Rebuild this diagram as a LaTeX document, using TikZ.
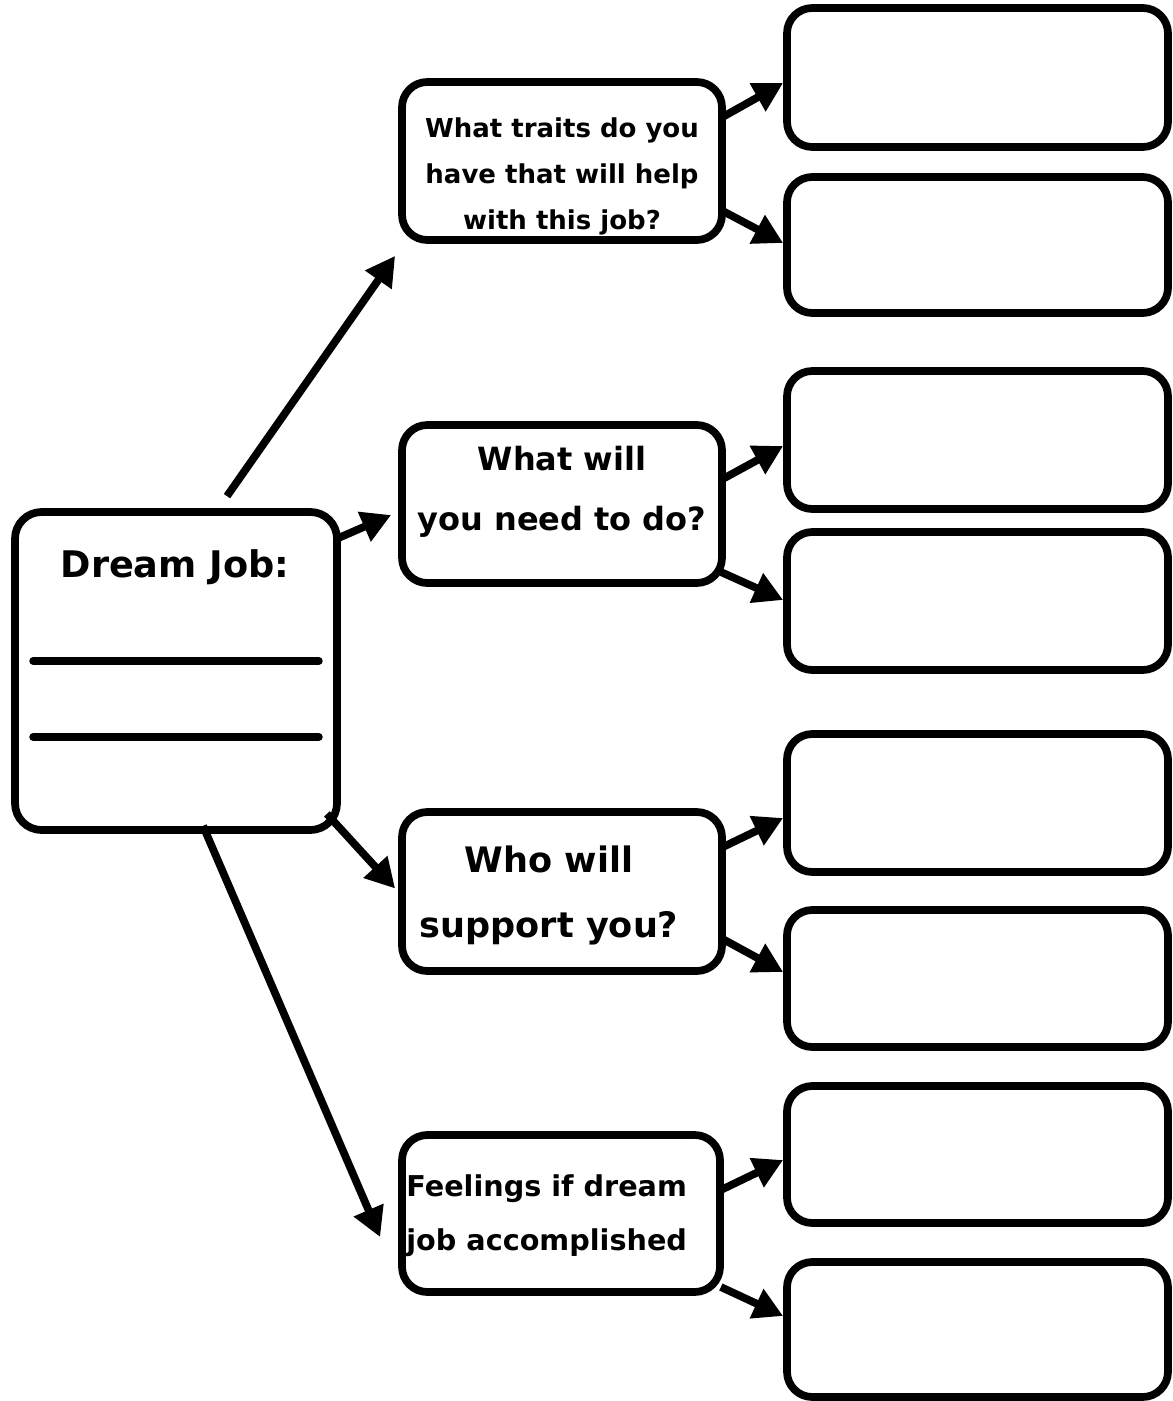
\documentclass[tikz,border=0pt]{standalone}
\usepackage{fontspec}
\setmainfont{DejaVu Sans}
\usetikzlibrary{arrows.meta,calc}
\tikzset{
  box/.style 2 args={draw, line width=5.8pt, rounded corners=19pt, inner sep=0pt,
    minimum width=#1, minimum height=#2},
  txt/.style={align=center, inner sep=0pt},
  arr/.style={line width=5.8pt, -{Triangle[length=22pt,width=23pt]}},
  blank/.style={line width=5.8pt, line cap=round}
}
\begin{document}
\begin{tikzpicture}[x=0.75pt,y=-0.75pt]
\useasboundingbox (0,0) rectangle (1172,1401);
% main box
\node[box={241.5pt}{238.5pt}, rounded corners=20pt] (dj) at (176,671) {};
\node[txt, font=\bfseries\fontsize{27.5}{32}\selectfont] (djt) at (175,567) {Dream Job:};
\draw[blank] ($(dj.west)+(22,-10)$) coordinate (l1a) -- ($(dj.east)+(-22,-10)$) coordinate (l1b);
\draw[blank] ($(dj.west)+(22,66)$) coordinate (l2a) -- ($(dj.east)+(-22,66)$) coordinate (l2b);
% question boxes
\node[box={240pt}{118.5pt}] (q1) at (562,161) {};
\node[box={240pt}{118.5pt}] (q2) at (562,504) {};
\node[box={240pt}{119.25pt}] (q3) at (562,891.5) {};
\node[box={238.5pt}{117.75pt}] (q4) at (561,1213.5) {};
\node[txt, font=\bfseries\fontsize{19.5}{34.5}\selectfont] (q1t) at ($(q1.center)+(0,15)$)
  {What traits do you\\have that will help\\with this job?};
\node[txt, font=\bfseries\fontsize{24}{45}\selectfont] (q2t) at ($(q2.center)+(0,-12)$)
  {What will\\you need to do?};
\node[txt, font=\bfseries\fontsize{26.3}{48.75}\selectfont] (q3t) at ($(q3.center)+(-13,4)$)
  {Who will\\support you?};
\node[txt, align=left, anchor=west, font=\bfseries\fontsize{21.5}{40.5}\selectfont] (q4t) at ($(q4.west)+(8,2)$)
  {Feelings if dream\\job accomplished};
% answer boxes
\node[box={285.75pt}{104.25pt}] (r1) at (977.5,77.5) {};
\node[box={285.75pt}{102pt}] (r2) at (977.5,245) {};
\node[box={285.75pt}{103.5pt}] (r3) at (977.5,440) {};
\node[box={285.75pt}{103.5pt}] (r4) at (977.5,601) {};
\node[box={285.75pt}{103.5pt}] (r5) at (977.5,803) {};
\node[box={285.75pt}{102.75pt}] (r6) at (977.5,978.5) {};
\node[box={285.75pt}{102.75pt}] (r7) at (977.5,1154.5) {};
\node[box={285.75pt}{101.25pt}] (r8) at (977.5,1329.5) {};
% arrows from the main box
\draw[arr] ($(dj.north)+(51,-12)$) -- ($(q1.south west)+(-3,12)$);
\draw[arr] ($(dj.north east)+(-5,31)$) -- ($(q2.west)+(-7,11)$);
\draw[arr] ($(dj.south east)+(-14,-20)$) -- ($(q3.west)+(-3,-3)$);
\draw[arr] ($(dj.south)+(27,-8)$) -- ($(q4.west)+(-18,23.5)$);
% arrows to answer boxes
\draw[arr] ($(q1.east)+(-5,-43)$) -- ($(r1.west)+(0,5.5)$);
\draw[arr] ($(q1.east)+(-5,49)$) -- ($(r2.west)+(0,-2)$);
\draw[arr] ($(q2.east)+(-5,-24)$) -- ($(r3.west)+(0,6)$);
\draw[arr] ($(q2.east)+(-5,68)$) -- ($(r4.west)+(0,-1)$);
\draw[arr] ($(q3.east)+(-5,-43.5)$) -- ($(r5.west)+(0,15)$);
\draw[arr] ($(q3.east)+(-5,46.5)$) -- ($(r6.west)+(0,-6.5)$);
\draw[arr] ($(q4.east)+(-3,-23.5)$) -- ($(r7.west)+(0,5.5)$);
\draw[arr] ($(q4.east)+(-3,73.5)$) -- ($(r8.west)+(0,-13.5)$);
\end{tikzpicture}
\end{document}
